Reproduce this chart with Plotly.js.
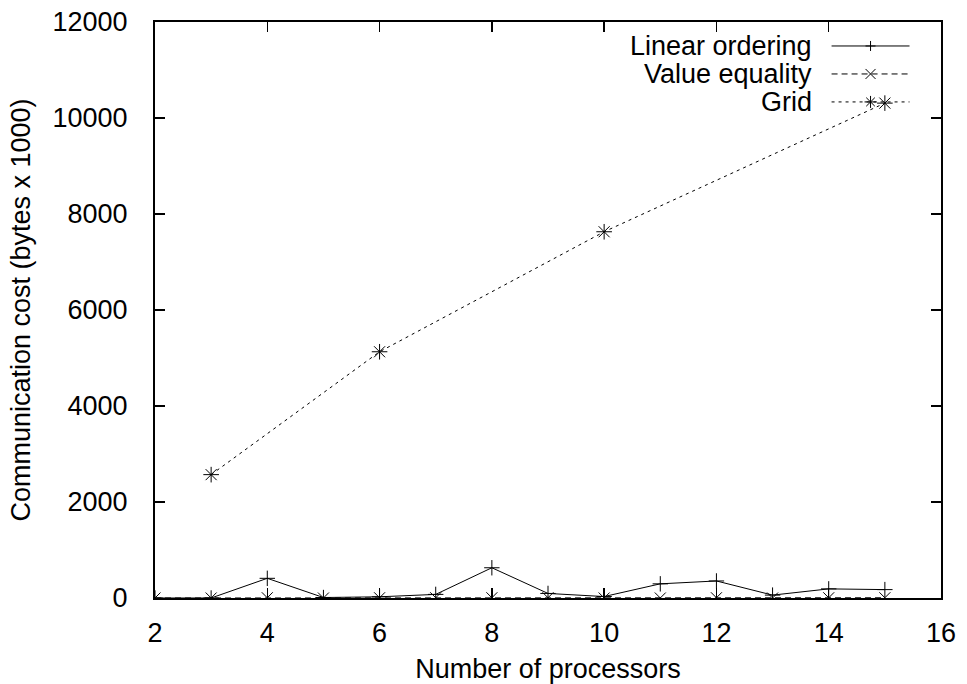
<!DOCTYPE html>
<html>
<head>
<meta charset="utf-8">
<script src="https://cdn.plot.ly/plotly-3.0.1.min.js"></script>
<style>html,body{margin:0;padding:0;background:#fff;}#chart{width:967px;height:684px;}</style>
</head>
<body>
<div id="chart"></div>
<script>
const processors = [2, 3, 4, 5, 6, 7, 8, 9, 10, 11, 12, 13, 14, 15];
const linearOrdering = [0, 0, 410, 10, 25, 75, 630, 95, 30, 295, 355, 60, 190, 175];
const valueEquality = [0, 0, 5, 0, 5, 5, 5, 5, 0, 0, 5, 0, 5, 5];
const gridProcessors = [3, 6, 10, 15];
const gridCost = [2570, 5130, 7630, 10310];
const seriesNames = ["Linear ordering", "Value equality", "Grid"];
const xTicks = [2, 4, 6, 8, 10, 12, 14, 16];
const yTicks = [0, 2000, 4000, 6000, 8000, 10000, 12000];

const FONT = "Liberation Sans, Arial, Helvetica, sans-serif";
const FS = 27;

const traces = [
  {x: processors, y: linearOrdering, name: seriesNames[0], mode: "lines+markers",
   line: {color: "#000", width: 1}, marker: {symbol: "cross-thin-open", size: 11, color: "#000", line: {color: "#000", width: 1}}},
  {x: processors, y: valueEquality, name: seriesNames[1], mode: "lines+markers",
   line: {color: "#000", width: 1, dash: "6px,4px"}, marker: {symbol: "x-thin-open", size: 11, color: "#000", line: {color: "#000", width: 1}}},
  {x: gridProcessors, y: gridCost, name: seriesNames[2], mode: "lines+markers",
   line: {color: "#000", width: 1, dash: "3px,4px"}, marker: {symbol: "asterisk-open", size: 13, color: "#000", line: {color: "#000", width: 1}}}
];

// custom gnuplot-style key (text right-aligned, sample on the right)
const L = 155, R = 941.5, T = 22, B = 598.5;
const px = v => (v - L) / (R - L);
const py = v => (B - v) / (B - T);
const rows = [46, 74, 102];
const markPaths = [
  "M-5,0L5,0M0,-5L0,5",
  "M-5,-5L5,5M-5,5L5,-5",
  "M-6,0L6,0M0,-6L0,6M-4.3,-4.3L4.3,4.3M-4.3,4.3L4.3,-4.3"
];
const shapes = [];
const annotations = [];
seriesNames.forEach((n, i) => {
  annotations.push({xref: "paper", yref: "paper", x: px(814), y: py(rows[i]), xanchor: "right", yanchor: "middle",
    text: n, showarrow: false, font: {family: FONT, size: FS, color: "#000"}});
  shapes.push({type: "line", xref: "paper", yref: "paper", x0: px(832), x1: px(910), y0: py(rows[i]), y1: py(rows[i]),
    line: {color: "#000", width: 1, dash: i === 0 ? "solid" : (i === 1 ? "6px,4px" : "3px,4px")}});
  shapes.push({type: "path", xref: "paper", yref: "paper", xsizemode: "pixel", ysizemode: "pixel",
    xanchor: px(871), yanchor: py(rows[i]), path: markPaths[i], line: {color: "#000", width: 1}});
});

const axisCommon = {
  showgrid: false, zeroline: false, showline: true, linecolor: "#000", linewidth: 2,
  mirror: "ticks", ticks: "inside", ticklen: 10, tickwidth: 1.5, tickcolor: "#000",
  tickfont: {family: FONT, size: FS, color: "#000"}
};

const layout = {
  width: 967, height: 684,
  margin: {l: 155, r: 25.5, t: 22, b: 85.5},
  paper_bgcolor: "#fff", plot_bgcolor: "#fff",
  showlegend: false,
  font: {family: FONT, size: FS, color: "#000"},
  xaxis: Object.assign({}, axisCommon, {
    range: [2, 16], tickvals: xTicks, ticktext: xTicks.map(String), ticklabelstandoff: 10,
    title: {text: "Number of processors", font: {family: FONT, size: FS, color: "#000"}, standoff: 12}
  }),
  yaxis: Object.assign({}, axisCommon, {
    range: [0, 12000], tickvals: yTicks, ticktext: yTicks.map(String), ticklabelstandoff: 20,
    title: {text: "Communication cost (bytes x 1000)", font: {family: FONT, size: FS, color: "#000"}, standoff: 14}
  }),
  shapes: shapes,
  annotations: annotations
};

Plotly.newPlot("chart", traces, layout, {staticPlot: true, displayModeBar: false});
</script>
</body>
</html>
